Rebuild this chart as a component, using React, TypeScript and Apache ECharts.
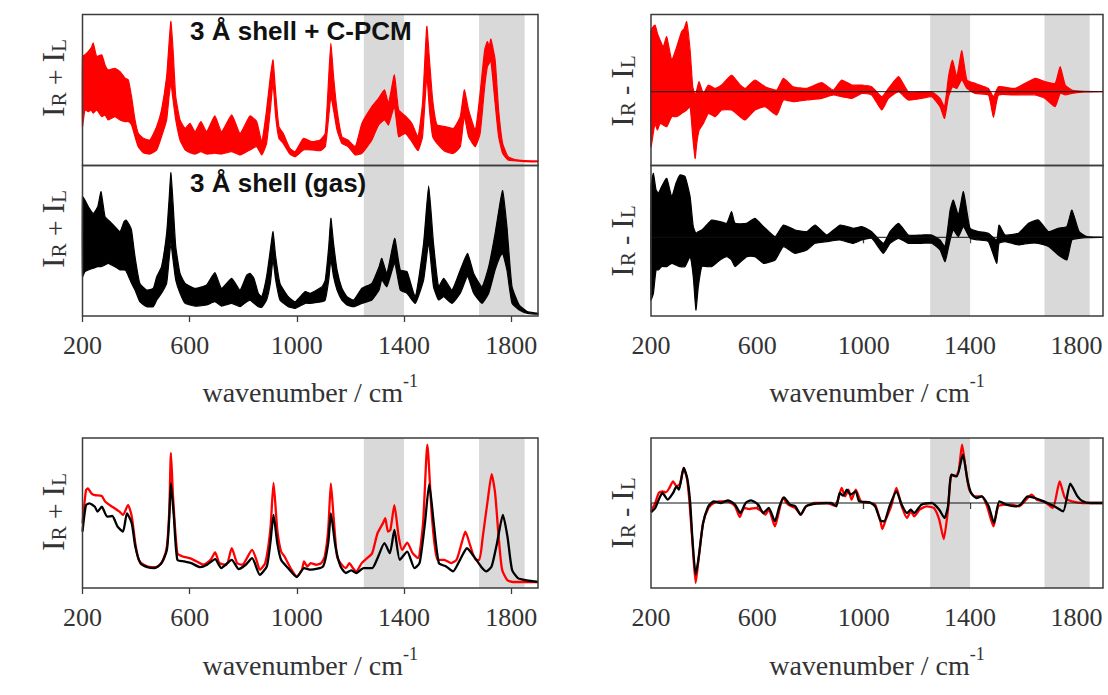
import React, { useEffect, useRef } from "react";
import * as echarts from "echarts";

// ---------- shared axis data ----------
const X_TICKS = [200, 600, 1000, 1400, 1800];
const BANDS = [
  [1250, 1400],
  [1680, 1850],
];

// ---------- top-left upper: I_R + I_L ensemble, 3 Å shell + C-PCM (envelope of traces) ----------
const SUM_PCM_WN = [200,209,222,232,240,253,272,284,296,321,340,359,371,383,396,408,427,452,477,495,514,523,530,538,548,564,583,601,620,642,663,694,719,757,788,825,850,869,887,901,911,921,933,949,974,994,1025,1056,1087,1106,1119,1127,1137,1150,1168,1191,1218,1243,1280,1305,1327,1342,1364,1380,1405,1429,1452,1469,1485,1495,1507,1523,1554,1585,1610,1625,1641,1666,1684,1701,1711,1718,1724,1740,1753,1768,1788,1810,1850,1900];
const SUM_PCM_HI = [72.2,73.3,75.5,77.7,81.0,72.2,73.3,66.6,63.3,64.4,62.2,57.8,56.7,45.6,30.2,21.3,18.0,16.9,25.8,36.8,58.9,81.0,95.4,76.6,45.6,30.2,24.6,28.0,22.4,29.1,22.4,32.8,22.4,33.5,21.3,32.8,29.1,15.8,36.8,58.9,69.9,47.9,25.8,21.3,11.4,9.2,18.0,15.8,16.9,21.3,58.9,81.0,58.9,36.8,19.1,16.9,12.5,28.0,39.0,44.5,50.1,41.2,60.0,36.8,32.8,28.0,19.1,41.2,92.1,69.9,43.4,26.9,25.8,24.6,32.4,50.1,36.8,23.5,47.9,76.6,82.1,78.8,83.7,69.9,36.8,14.7,5.9,4.1,3.2,3.0];
const SUM_PCM_LO = [25.8,36.8,35.7,36.8,34.6,36.8,32.4,33.5,30.2,32.4,30.2,29.1,29.1,26.9,19.1,12.5,8.5,7.6,10.3,19.1,30.2,45.6,54.5,43.4,30.2,16.9,10.3,8.5,7.6,9.2,7.6,8.1,7.6,9.2,7.0,10.3,12.5,7.0,14.7,36.8,54.5,32.4,18.0,14.7,7.6,5.9,10.3,10.3,9.8,12.5,32.4,45.6,36.8,23.5,14.7,12.5,7.0,8.1,16.9,26.9,30.2,26.9,39.0,19.1,21.3,15.8,9.8,19.1,58.9,36.8,19.1,14.7,9.2,8.1,12.5,32.4,19.1,12.5,21.3,52.2,65.5,67.7,69.9,41.2,19.1,8.1,3.6,3.2,2.5,2.5];

// ---------- top-left lower: I_R + I_L ensemble, 3 Å shell (gas) ----------
const SUM_GAS_WN = [200,209,222,240,257,269,284,296,321,340,355,362,375,383,396,414,439,464,477,495,514,523,530,538,548,564,583,620,663,694,719,757,788,813,825,840,856,869,887,901,911,921,937,968,994,1031,1050,1094,1106,1119,1127,1137,1150,1168,1187,1212,1243,1280,1307,1317,1336,1365,1386,1411,1442,1473,1492,1510,1529,1548,1579,1610,1637,1660,1691,1716,1740,1758,1768,1784,1803,1830,1860,1900];
const SUM_GAS_HI = [79.3,77.1,72.6,68.2,72.6,82.6,66.0,63.8,59.4,56.0,62.7,63.8,60.5,57.1,39.4,21.7,17.3,18.4,26.1,32.8,54.9,77.1,95.2,74.9,46.1,28.3,21.7,18.4,20.6,28.8,18.4,25.0,17.3,27.2,28.3,25.0,15.1,12.8,26.1,43.9,56.0,39.4,21.7,12.8,9.5,16.2,15.1,19.5,23.9,46.1,64.9,48.3,30.6,18.4,12.8,10.6,18.4,21.7,32.8,38.3,28.3,51.6,30.6,29.5,12.8,48.3,86.4,48.3,19.5,25.0,17.3,30.6,41.6,28.3,19.5,32.8,54.9,74.9,83.3,59.4,19.5,7.3,2.9,1.8];
const SUM_GAS_LO = [26.1,29.5,30.6,31.7,32.8,32.8,33.9,35.0,32.8,30.6,30.6,30.1,25.0,21.7,17.3,9.5,6.2,6.2,10.6,15.1,21.7,37.2,48.3,37.2,23.9,15.1,8.4,6.6,7.3,9.5,6.6,8.4,6.2,9.5,10.6,8.4,6.2,5.8,10.6,21.7,37.2,23.9,10.6,6.2,5.1,8.4,8.4,9.5,10.6,23.9,37.2,26.1,17.3,10.6,7.3,6.2,8.4,10.6,17.3,23.9,19.5,35.0,17.3,15.1,8.4,23.9,48.3,19.5,10.6,12.8,8.4,15.1,26.1,15.1,8.4,15.1,30.6,39.4,41.6,30.6,8.4,4.0,1.8,1.3];

// ---------- top-right upper: I_R - I_L ensemble, 3 Å shell + C-PCM ----------
const DIF_PCM_WN = [200,215,224,234,246,259,278,297,315,325,334,347,357,366,372,381,397,416,441,466,503,535,554,591,629,673,698,735,786,842,886,917,955,993,1030,1068,1093,1131,1168,1218,1256,1287,1304,1319,1334,1350,1369,1388,1419,1469,1488,1507,1569,1645,1682,1720,1739,1758,1783,1830,1900];
const DIF_PCM_HI = [61.7,66.7,58.3,51.7,45,55,31.7,45,60,63.3,70,41.7,5,-3.3,1.7,10,-1.7,6.7,3.3,6.7,16.7,6.7,3.3,11.7,5,1.7,13.3,5,3.3,9,1.7,11.7,6.7,6.7,5,-5,3.3,15,0,0,0,-6.7,-15,15,31.7,15,41,11.7,8.3,3.3,-5,5,3.3,13.3,10,8.3,25,6.7,1.7,0.3,0];
const DIF_PCM_LO = [-55,-31.7,-38.3,-31.7,-33.3,-35,-25,-25,-21.7,-20,-18.3,-15,-45,-66.7,-51.7,-38.3,-31.7,-21.7,-25,-18.3,-18.3,-25,-28.3,-18.3,-15,-23.3,-8.3,-10,-8.3,-6.7,-3.3,-5,-6.7,-1.7,-3.3,-18.3,-6.7,0,-8.3,-6.7,-5,-15,-26.7,-5,5,3.3,11.7,3.3,-1.7,-3.3,-25.7,-3.3,-3.3,-3.3,-6.7,-15,-1.7,-3.3,-1.7,-0.3,0];

// ---------- top-right lower: I_R - I_L ensemble, 3 Å shell (gas) ----------
const DIF_GAS_WN = [200,209,219,228,240,259,278,294,309,328,347,359,369,378,391,409,428,460,485,503,516,560,591,623,667,698,742,786,817,861,911,961,993,1030,1074,1099,1131,1168,1218,1256,1287,1306,1325,1337,1356,1375,1400,1432,1469,1500,1509,1532,1582,1620,1657,1695,1732,1764,1783,1810,1840,1900];
const DIF_GAS_HI = [50.7,64,47.3,44,50.7,59,40.7,54,62.3,60.7,40.7,10.7,4,5.7,7.3,12.3,17.3,15.7,14,25.7,14,14,19,10.7,0.7,12.3,7.3,5.7,12.3,2.3,12.3,9,10.7,5.7,-6,5.7,14,2.3,2.3,2.3,-2.7,-9.3,27.3,37.3,22.3,45.7,9,5.7,4,-2.7,12.3,2.3,4,14,17.3,5.7,9,10.7,27.3,5.7,0.7,0];
const DIF_GAS_LO = [-62.7,-56,-32.7,-32.7,-29.3,-29.3,-26,-27.7,-29.3,-29.3,-19.3,-39.3,-72.7,-49.3,-29.3,-29.3,-29.3,-22.7,-19.3,-22.7,-29.3,-19.3,-19.3,-26,-22.7,-9.3,-16,-12.7,-6,-4.3,-2.7,-6,-2.7,-1,-16,-6,-1,-6,-6,-6,-12.7,-24.3,-2.7,7.3,0.7,10.7,-1,-2.7,-4.3,-26,-6,-4.3,-7.7,-6,-6,-9.3,-17.7,-22.7,-2.7,-1,-0.3,0];

// ---------- bottom-left: averaged I_R + I_L ----------
const AVG_SUM_PCM_WN = [200,213,220,233,246,272,285,311,338,351,370,384,397,410,429,456,482,501,515,524,530,538,554,574,600,626,652,678,695,711,737,757,777,796,833,849,862,882,901,913,927,941,954,980,1000,1019,1027,1039,1052,1072,1091,1104,1117,1127,1137,1150,1163,1183,1196,1209,1222,1242,1262,1281,1301,1321,1330,1340,1349,1364,1380,1393,1412,1432,1452,1471,1487,1504,1524,1550,1576,1596,1615,1629,1648,1668,1681,1694,1714,1727,1740,1753,1766,1786,1806,1900];
const AVG_SUM_PCM = [43.1,65.3,66.4,63.1,61.9,61.3,57.5,54.2,50.9,48.7,55.3,47.6,29.9,18.8,15.5,13.9,14.4,18.8,27.7,52.0,90.0,60.8,23.2,21.0,19.9,17.7,15.5,18.8,23.7,16.6,15.5,26.5,16.6,15.5,25.4,18.8,12.2,16.6,38.7,70.1,38.7,24.3,21.0,12.2,7.7,12.2,17.7,14.4,16.6,15.5,16.6,21.0,38.7,69.7,47.6,21.0,16.6,13.3,16.6,13.3,11.1,16.6,19.9,23.2,36.5,43.1,46.5,37.6,38.7,55.3,34.3,25.4,30.3,23.2,19.9,43.1,95.6,47.6,18.8,18.8,16.6,18.8,29.9,37.6,27.7,18.8,18.8,34.3,60.8,75.9,63.1,34.3,12.2,5.1,4.0,4.0];
const AVG_SUM_GAS_WN = [200,213,226,246,256,272,292,311,331,351,366,384,397,416,442,469,495,515,524,530,541,554,580,606,639,665,695,718,757,783,809,833,862,888,901,913,927,941,967,1000,1027,1052,1098,1117,1127,1144,1163,1183,1203,1222,1249,1281,1301,1327,1347,1364,1384,1412,1439,1458,1478,1494,1511,1530,1557,1583,1609,1635,1661,1687,1707,1727,1747,1769,1786,1803,1825,1858,1900];
const AVG_SUM_GAS = [37.6,55.3,56.4,54.2,50.9,54.2,47.6,48.0,40.9,37.6,49.8,43.1,27.7,16.6,13.9,13.3,16.6,25.4,47.6,69.7,47.6,18.8,17.7,16.6,13.9,15.5,19.2,13.3,18.8,12.6,15.5,19.9,8.8,14.4,29.9,48.7,29.9,18.8,13.3,7.3,13.3,12.2,14.4,29.9,49.8,27.7,14.4,10.0,11.7,10.0,13.3,13.3,19.9,29.9,23.2,38.7,18.8,24.3,13.3,16.6,43.1,69.2,43.1,16.6,14.4,11.1,18.8,26.5,21.0,14.4,11.1,14.4,29.9,48.7,34.3,12.2,6.6,5.1,4.0];

// ---------- bottom-right: averaged I_R - I_L ----------
const AVG_DIF_PCM_WN = [200,216,229,243,256,269,283,296,309,323,336,345,356,368,380,396,416,436,456,476,496,516,534,550,570,596,616,630,643,666,683,696,716,743,763,783,816,863,890,903,917,930,943,954,970,990,1023,1043,1063,1070,1083,1103,1123,1143,1163,1177,1190,1210,1237,1264,1284,1301,1317,1330,1344,1357,1370,1384,1397,1417,1444,1464,1488,1506,1530,1557,1584,1611,1631,1651,1677,1711,1737,1757,1784,1824,1900];
const AVG_DIF_PCM = [-25,0,30,35,32,45,65,50,58,105,70,0,-120,-240,-160,-60,-15,0,5,5,2,-10,-42,-15,-18,-15,-25,-35,-20,-70,-20,15,-5,-15,-35,-10,0,0,-8,10,45,20,40,10,40,5,0,-5,-55,-78,-50,-10,45,-10,-45,-25,-40,-20,-10,-15,-50,-108,-20,85,80,95,175,100,40,20,20,-10,-70,-10,-5,-5,-10,10,25,10,5,-15,65,15,5,0,0];
const AVG_DIF_GAS_WN = [200,216,229,243,263,283,296,305,323,336,347,356,368,380,396,416,436,463,490,516,536,556,576,603,623,643,666,683,700,723,743,763,783,823,877,897,910,923,937,950,970,983,1023,1043,1063,1077,1097,1123,1143,1163,1177,1190,1217,1257,1284,1304,1317,1330,1350,1373,1390,1404,1424,1444,1470,1490,1510,1537,1570,1590,1617,1644,1677,1717,1750,1777,1804,1824,1851,1900];
const AVG_DIF_GAS = [-28,-15,10,30,10,30,50,40,105,75,5,-110,-215,-160,-60,-10,5,0,8,-5,-30,0,8,-5,-30,-15,-55,-10,17,-5,-10,-35,-10,-2,0,-10,30,22,40,25,35,5,2,-10,-52,-55,-10,35,-5,-30,-20,-30,-5,0,-20,-45,-10,85,80,145,70,30,15,20,-10,-60,5,-5,-10,-5,20,15,5,-10,-25,58,20,5,0,0];

// ---------- texts ----------
const PANEL_TITLES = ["3 Å shell + C-PCM", "3 Å shell (gas)"];
const X_TITLE = "wavenumber / cm";
const X_TITLE_SUP = "-1";

const RED = "#ff0000";
const BLACK = "#000000";
const FRAME = "#3c3c3c";
const TEXT = "#333333";
const SERIF = "'Liberation Serif', 'Times New Roman', serif";
const SANS = "'Liberation Sans', Arial, sans-serif";

// grid layout (pixels)
const LX = 82.5, LW = 455.5, RX = 651, RW = 452;
const GRIDS = [
  { left: LX, top: 14.5, width: LW, height: 151, ymin: 0, ymax: 100, labels: false },
  { left: LX, top: 165.5, width: LW, height: 150.5, ymin: 0, ymax: 100, labels: true },
  { left: RX, top: 14.5, width: RW, height: 151, ymin: -73.8, ymax: 77.2, labels: false },
  { left: RX, top: 165.5, width: RW, height: 150.5, ymin: -78.7, ymax: 71.8, labels: true },
  { left: LX, top: 438, width: LW, height: 150, ymin: 0, ymax: 100, labels: true },
  { left: RX, top: 438, width: RW, height: 150, ymin: -255, ymax: 195, labels: true },
];

function buildOption() {
  const series: any[] = [];
  GRIDS.forEach((g, i) => {
    series.push({
      type: "line",
      xAxisIndex: i,
      yAxisIndex: i,
      data: [[200, g.ymin]],
      symbol: "none",
      lineStyle: { opacity: 0 },
      silent: true,
      z: 1,
      markArea: {
        silent: true,
        itemStyle: { color: "#d9d9d9" },
        data: BANDS.map(([a, b]) => [{ xAxis: a }, { xAxis: b }]),
      },
    });
  });

  // envelope band of an ensemble of traces: polygon between lower and upper envelope
  const band = (g: number, wn: number[], lo: number[], hi: number[], color: string) => {
    series.push({
      type: "custom",
      xAxisIndex: g,
      yAxisIndex: g,
      silent: true,
      z: 3,
      data: wn.map((x, k) => [x, lo[k], hi[k]]),
      encode: { x: 0, y: [1, 2] },
      renderItem: (params: any, api: any) => {
        if (params.dataIndex !== 0) return null;
        const top: number[][] = [];
        const bottom: number[][] = [];
        for (let k = 0; k < wn.length; k++) top.push(api.coord([wn[k], hi[k]]));
        for (let k = wn.length - 1; k >= 0; k--) bottom.push(api.coord([wn[k], lo[k]]));
        return {
          type: "group",
          children: [
            {
              type: "polygon",
              shape: { points: top.concat(bottom), smooth: 0.15 },
              style: { fill: color, stroke: color, lineWidth: 1.2, lineJoin: "round" },
            },
          ],
        };
      },
    });
  };
  band(0, SUM_PCM_WN, SUM_PCM_LO, SUM_PCM_HI, RED);
  band(1, SUM_GAS_WN, SUM_GAS_LO, SUM_GAS_HI, BLACK);
  band(2, DIF_PCM_WN, DIF_PCM_LO, DIF_PCM_HI, RED);
  band(3, DIF_GAS_WN, DIF_GAS_LO, DIF_GAS_HI, BLACK);

  const line = (g: number, wn: number[], v: number[], color: string) => {
    series.push({
      type: "line", xAxisIndex: g, yAxisIndex: g, symbol: "none", silent: true, z: 4,
      smooth: 0.2,
      data: wn.map((x, k) => [x, v[k]]),
      lineStyle: { color, width: 2.3 },
    });
  };
  line(4, AVG_SUM_PCM_WN, AVG_SUM_PCM, RED);
  line(4, AVG_SUM_GAS_WN, AVG_SUM_GAS, BLACK);
  line(5, AVG_DIF_PCM_WN, AVG_DIF_PCM, RED);
  line(5, AVG_DIF_GAS_WN, AVG_DIF_GAS, BLACK);

  [2, 3, 5].forEach((g) => {
    series.push({
      type: "line", xAxisIndex: g, yAxisIndex: g, symbol: "none", silent: true, z: 6,
      data: [[200, 0], [1900, 0]],
      lineStyle: { color: "#111", width: 1 },
    });
  });

  const xTitle = (cx: number, cy: number) => ({
    type: "text",
    x: cx,
    y: cy,
    silent: true,
    style: {
      text: `{a|${X_TITLE}}{b|${X_TITLE_SUP}}`,
      textAlign: "center",
      textVerticalAlign: "middle",
      fill: TEXT,
      rich: {
        a: { fontSize: 28, fontFamily: SERIF, lineHeight: 34, verticalAlign: "bottom", fill: TEXT },
        b: { fontSize: 18, fontFamily: SERIF, lineHeight: 18, verticalAlign: "top", fill: TEXT },
      },
    },
  });

  const yLabel = (cx: number, cy: number, op: string) => ({
    type: "text",
    x: cx,
    y: cy,
    rotation: Math.PI / 2,
    silent: true,
    style: {
      text: `{i|I}{s|R}{m|${op}}{i|I}{s|L}`,
      textAlign: "center",
      textVerticalAlign: "middle",
      fill: TEXT,
      rich: {
        i: { fontSize: 32, fontFamily: SERIF, lineHeight: 44, verticalAlign: "bottom", fill: TEXT },
        m: { fontSize: 28, fontFamily: SERIF, lineHeight: 40, verticalAlign: "bottom", fill: TEXT },
        s: { fontSize: 21, fontFamily: SERIF, lineHeight: 21, verticalAlign: "bottom", fill: TEXT },
      },
    },
  });

  const graphic: any[] = [
    {
      type: "text", x: 190, y: 31, silent: true, z: 20,
      style: { text: PANEL_TITLES[0], textVerticalAlign: "middle", fontSize: 26, fontWeight: "bold", fontFamily: SANS, fill: "#111" },
    },
    {
      type: "text", x: 190, y: 183, silent: true, z: 20,
      style: { text: PANEL_TITLES[1], textVerticalAlign: "middle", fontSize: 26, fontWeight: "bold", fontFamily: SANS, fill: "#111" },
    },
    xTitle(LX + LW / 2, 389),
    xTitle(RX + RW / 2, 389),
    xTitle(LX + LW / 2, 662),
    xTitle(RX + RW / 2, 662),
    yLabel(47, 78, " + "),
    yLabel(47, 229, " + "),
    yLabel(47, 512, " + "),
    yLabel(616, 91, " - "),
    yLabel(616, 241, " - "),
    yLabel(616, 513, " - "),
  ];

  return {
    animation: false,
    backgroundColor: "#ffffff",
    grid: GRIDS.map((g) => ({
      left: g.left, top: g.top, width: g.width, height: g.height,
      show: true, borderColor: FRAME, borderWidth: 1.5, backgroundColor: "transparent", z: 10,
    })),
    xAxis: GRIDS.map((g, i) => ({
      gridIndex: i, type: "value", min: 200, max: 1900, interval: 400,
      axisLine: { show: false },
      splitLine: { show: false },
      axisTick: { show: g.labels, inside: false, length: 6, customValues: X_TICKS, lineStyle: { color: FRAME, width: 1.3 } },
      axisLabel: {
        show: g.labels, customValues: X_TICKS, margin: 16, color: TEXT, fontFamily: SERIF, fontSize: 26,
        formatter: (v: number) => String(v),
      },
    })),
    yAxis: GRIDS.map((g, i) => ({
      gridIndex: i, type: "value", min: g.ymin, max: g.ymax, show: false,
    })),
    series,
    graphic,
  };
}

export default function App() {
  const ref = useRef<HTMLDivElement>(null);
  useEffect(() => {
    if (!ref.current) return;
    const chart = echarts.init(ref.current, null, { renderer: "svg" });
    chart.setOption(buildOption() as any);
    return () => chart.dispose();
  }, []);
  return (
    <div
      ref={ref}
      style={{ position: "absolute", left: 0, top: 0, width: 1108, height: 695, background: "#fff" }}
    />
  );
}
